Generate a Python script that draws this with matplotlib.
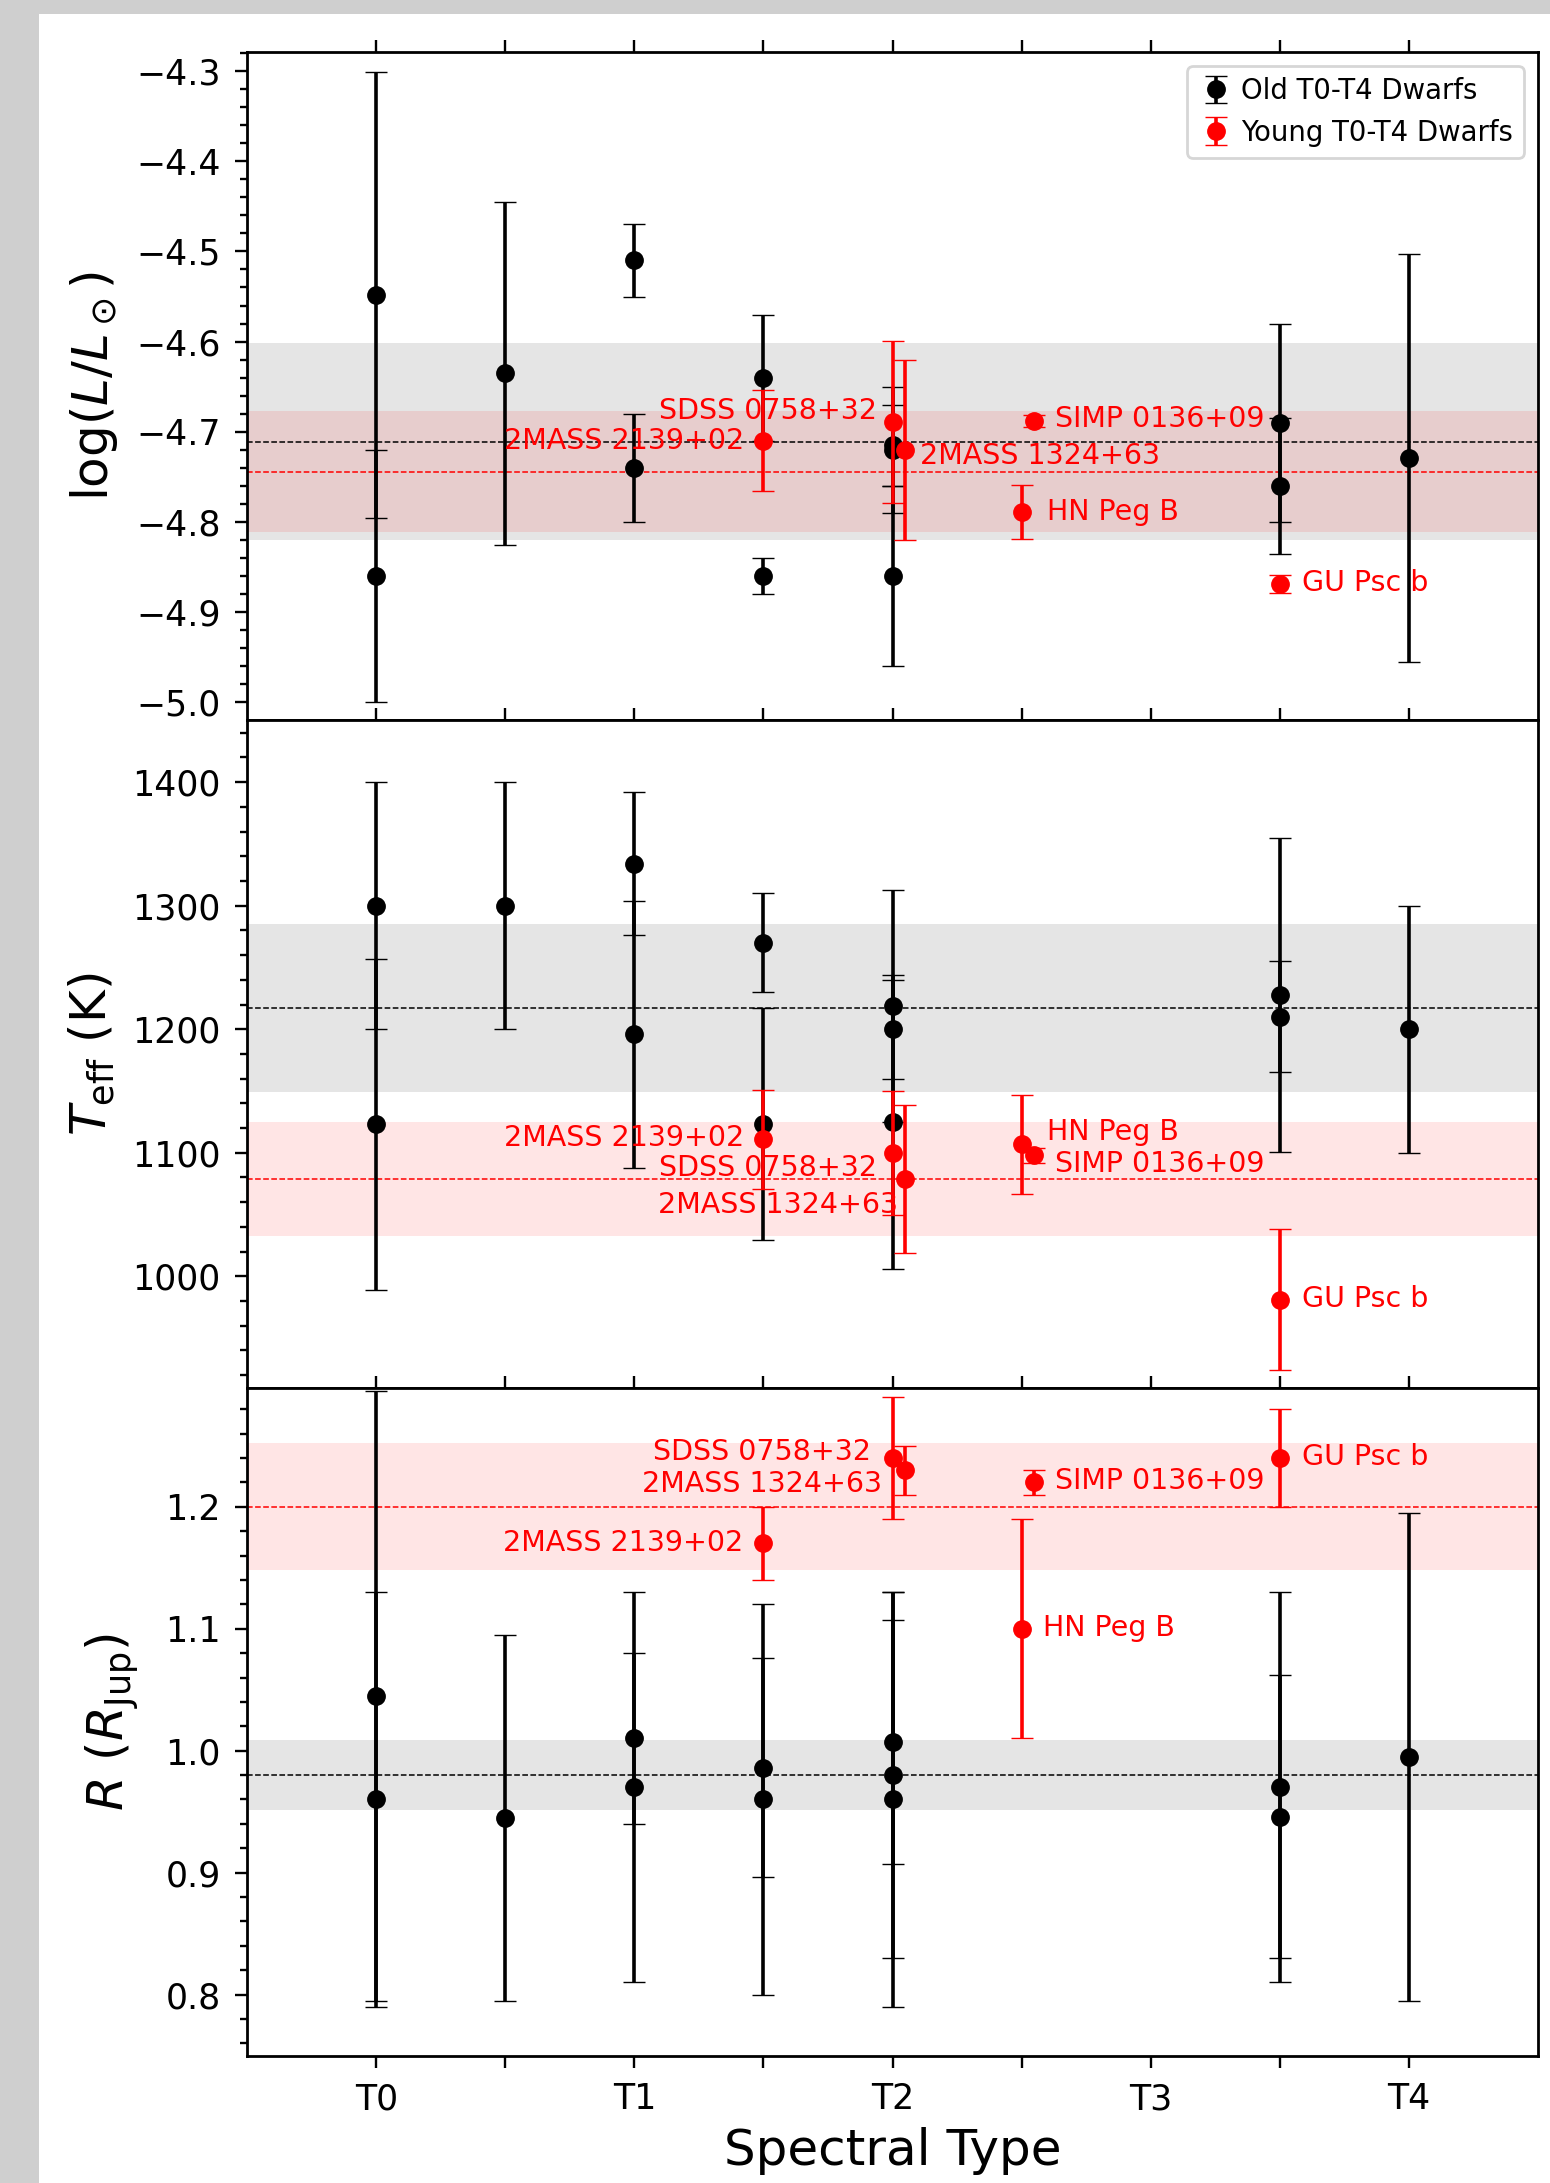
import numpy as np
import matplotlib
matplotlib.use('Agg')
import matplotlib.pyplot as plt
from matplotlib.ticker import AutoMinorLocator
from matplotlib.patches import Rectangle

# ---------------- data ----------------
spt_ticks = [0, 0.5, 1, 1.5, 2, 2.5, 3, 3.5, 4]
spt_labels = ['T0', '', 'T1', '', 'T2', '', 'T3', '', 'T4']

# old T0-T4 dwarfs
old_spt = [0, 0, 0.5, 1, 1, 1.5, 1.5, 2, 2, 2, 3.5, 3.5, 4]
old_logL = [-4.548, -4.86, -4.635, -4.51, -4.74, -4.64, -4.86, -4.72, -4.715, -4.86, -4.69, -4.76, -4.729]
old_logL_err = [0.247, 0.14, 0.19, 0.04, 0.06, 0.07, 0.02, 0.07, 0.045, 0.10, 0.11, 0.075, 0.226]
old_teff = [1300, 1123, 1300, 1334, 1196, 1270, 1123, 1219, 1200, 1125, 1228, 1210, 1200]
old_teff_err = [100, 134, 100, 58, 108, 40, 94, 94, 40, 119, 127, 45, 100]
old_rad = [1.045, 0.96, 0.945, 1.01, 0.97, 0.986, 0.96, 1.007, 0.98, 0.96, 0.97, 0.946, 0.995]
old_rad_err = [0.25, 0.17, 0.15, 0.07, 0.16, 0.09, 0.16, 0.10, 0.15, 0.17, 0.16, 0.116, 0.20]

# young T0-T4 dwarfs
young_names = ['2MASS 2139+02', 'SDSS 0758+32', '2MASS 1324+63', 'HN Peg B', 'SIMP 0136+09', 'GU Psc b']
young_spt = [1.5, 2.0, 2.05, 2.5, 2.55, 3.5]
young_logL = [-4.71, -4.689, -4.72, -4.789, -4.688, -4.869]
young_logL_err = [0.056, 0.09, 0.10, 0.03, 0.007, 0.01]
young_teff = [1111, 1100, 1079, 1107, 1098, 981]
young_teff_err = [40, 50, 60, 40, 6, 57]
young_rad = [1.17, 1.24, 1.23, 1.10, 1.22, 1.24]
young_rad_err = [0.03, 0.05, 0.02, 0.09, 0.01, 0.04]

# group means and spreads
old_mean = [-4.711, 1217, 0.98]
old_spread = [0.109, 68, 0.029]
young_mean = [-4.744, 1079, 1.20]
young_spread = [0.067, 46, 0.052]

# ---------------- label placement (data coords, alignment) ----------------
label_pos = [
    # panel 1
    [(1.427, -4.710, 'right'), (1.94, -4.677, 'right'), (2.105, -4.727, 'left'),
     (2.60, -4.789, 'left'), (2.63, -4.686, 'left'), (3.585, -4.868, 'left')],
    # panel 2
    [(1.427, 1112, 'right'), (1.94, 1088, 'right'), (2.02, 1058, 'right'),
     (2.60, 1117, 'left'), (2.63, 1091, 'left'), (3.585, 982, 'left')],
    # panel 3
    [(1.423, 1.1706, 'right'), (1.915, 1.245, 'right'), (1.96, 1.219, 'right'),
     (2.585, 1.1005, 'left'), (2.63, 1.221, 'left'), (3.585, 1.241, 'left')],
]

W, H = 1550, 2183
fig = plt.figure(figsize=(W / 100, H / 100), dpi=100)
fig.patch.set_facecolor('#cfcfcf')
fig.patches.append(Rectangle((39 / W, 0), 1 - 39 / W, 1 - 14 / H, transform=fig.transFigure,
                             facecolor='white', edgecolor='none', zorder=-10))

left = 247.3 / W
width = 1290.4 / W
edges = [52.3, 720.0, 1388.0, 2055.7]
ylims = [(-5.0194, -4.2793), (909.6, 1450.3), (0.7498, 1.2975)]
ylabels = [r'$\log(L/L_\odot)$', r'$T_{\rm eff}$ (K)', r'$R$ ($R_{\rm Jup}$)']
ylabel_x = [-0.099, -0.101, -0.082]

old_vals = [(old_logL, old_logL_err), (old_teff, old_teff_err), (old_rad, old_rad_err)]
young_vals = [(young_logL, young_logL_err), (young_teff, young_teff_err), (young_rad, young_rad_err)]

ebkw = dict(fmt='o', ms=12.5, capsize=7.6, elinewidth=2.6, capthick=2.4, mew=1)

axes = []
for i in range(3):
    bottom = 1 - edges[i + 1] / H
    height = (edges[i + 1] - edges[i]) / H
    ax = fig.add_axes([left, bottom, width, height])
    axes.append(ax)

    ax.axhspan(old_mean[i] - old_spread[i], old_mean[i] + old_spread[i], color='black', alpha=0.1,
               lw=0, zorder=0)
    ax.axhspan(young_mean[i] - young_spread[i], young_mean[i] + young_spread[i], color='red', alpha=0.1,
               lw=0, zorder=0)
    ax.axhline(old_mean[i], color='black', ls='--', lw=1.1, zorder=1)
    ax.axhline(young_mean[i], color='red', ls='--', lw=1.1, zorder=1)

    ov, oe = old_vals[i]
    for k, (x, y, e) in enumerate(zip(old_spt, ov, oe)):
        ax.errorbar(x, y, yerr=e, color='black', zorder=2,
                    label='Old T0-T4 Dwarfs' if k == 0 else None, **ebkw)
    yv, ye = young_vals[i]
    for k, (x, y, e) in enumerate(zip(young_spt, yv, ye)):
        ax.errorbar(x, y, yerr=e, color='red', zorder=3,
                    label='Young T0-T4 Dwarfs' if k == 0 else None, **ebkw)

    for name, (tx, ty, ha) in zip(young_names, label_pos[i]):
        ax.text(tx, ty, name, color='red', fontsize=20.5, ha=ha, va='center', zorder=4)

    ax.set_xlim(-0.5, 4.5)
    ax.set_ylim(*ylims[i])
    ax.set_xticks(spt_ticks)
    ax.tick_params(axis='both', which='major', direction='out', length=8.6, width=1.7,
                   labelsize=25, pad=10.5)
    ax.tick_params(axis='y', which='minor', direction='out', length=5, width=1.7)
    ax.tick_params(axis='x', top=True, bottom=(i == 2), labelbottom=(i == 2))
    ax.tick_params(axis='y', right=False)
    for sp in ax.spines.values():
        sp.set_linewidth(2.0)
    ax.set_ylabel(ylabels[i], fontsize=36)
    ax.yaxis.set_label_coords(ylabel_x[i], 0.5)

axes[2].set_xticklabels(spt_labels)
axes[2].set_xlabel('Spectral Type', fontsize=36, labelpad=8)

axes[0].set_yticks([-5.0, -4.9, -4.8, -4.7, -4.6, -4.5, -4.4, -4.3])
axes[1].set_yticks([1000, 1100, 1200, 1300, 1400])
axes[2].set_yticks([0.8, 0.9, 1.0, 1.1, 1.2])
for ax in axes:
    ax.yaxis.set_minor_locator(AutoMinorLocator(5))

leg = axes[0].legend(loc='upper right', fontsize=19.8, handlelength=1.3, handletextpad=0.25,
                     labelspacing=0.5)
leg.get_frame().set_linewidth(2)

fig.savefig('out.png', dpi=100, facecolor=fig.get_facecolor())
